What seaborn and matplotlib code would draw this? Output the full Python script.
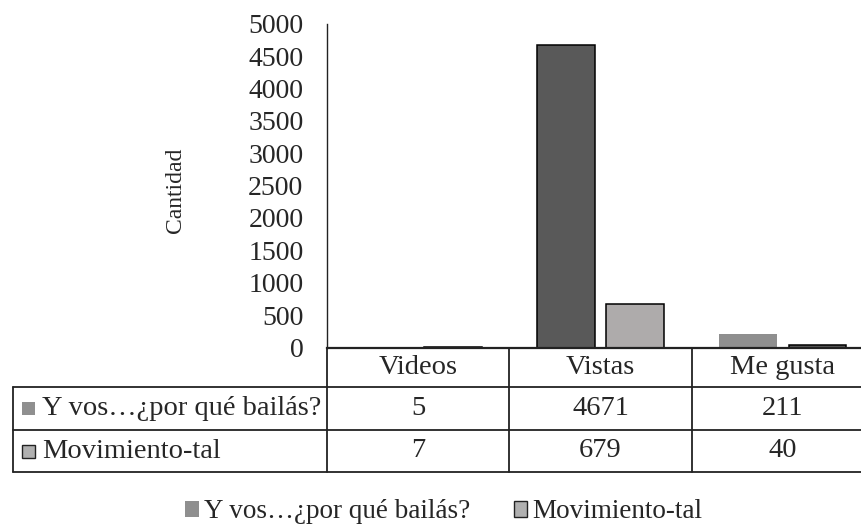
import pandas as pd
import matplotlib
matplotlib.use('Agg')
import matplotlib.pyplot as plt
import matplotlib.transforms as mtransforms
from matplotlib.lines import Line2D
from matplotlib.patches import Patch
import seaborn as sns

# Datos
categorias = ['Videos', 'Vistas', 'Me gusta']
series = ['Y vos…¿por qué bailás?', 'Movimiento-tal']
valores_y_vos = [5, 4671, 211]
valores_movimiento = [7, 679, 40]
ticks_y = [0, 500, 1000, 1500, 2000, 2500, 3000, 3500, 4000, 4500, 5000]

#Armar tabla larga para seaborn
df = pd.DataFrame({
    'categoria': categorias * 2,
    'serie': [series[0]] * 3 + [series[1]] * 3,
    'valor': valores_y_vos + valores_movimiento,
})

sns.set_style('white')
plt.rcParams['font.family'] = ['Liberation Serif', 'DejaVu Serif']

W, H = 861, 527
fig = plt.figure(figsize=(W / 100, H / 100), dpi=100)

#Eje en pixeles: izquierda 327, derecha 874 (se corta), arriba 23.7, cero en 347.5
ax_left, ax_right, ax_top, ax_bottom = 327, 874, 23.7, 347.5
ax = fig.add_axes([ax_left / W, (H - ax_bottom) / H,
                   (ax_right - ax_left) / W, (ax_bottom - ax_top) / H])

colores = ['#595959', '#AEAAAA']
sns.barplot(data=df, x='categoria', y='valor', hue='serie', order=categorias,
            hue_order=series, palette=colores, width=0.76, gap=0.17,
            edgecolor='black', linewidth=1.1, ax=ax, legend=False)

#En el original los colores cambian segun la categoria
barras_1 = ax.containers[0]
barras_2 = ax.containers[1]
barras_1[0].set_edgecolor('none')
barras_1[2].set_facecolor('#8F8F8F')
barras_1[2].set_edgecolor('none')
barras_2[2].set_facecolor('#595959')

ax.set_ylim(0, 5000)
ax.set_xlim(-0.5, 2.5)
ax.set_yticks(ticks_y)
ax.set_yticklabels([str(t) for t in ticks_y], fontsize=20)
ax.tick_params(axis='y', length=0, pad=17)
ax.tick_params(axis='x', length=0, labelbottom=False)
ax.set_xlabel('')
ax.set_ylabel('')
for s in ['top', 'right']:
    ax.spines[s].set_visible(False)
ax.spines['left'].set_linewidth(1.0)
ax.spines['left'].set_color('#222222')
ax.spines['bottom'].set_linewidth(1.6)
ax.spines['bottom'].set_color('#222222')

fig.text(176 / W, 1 - 190 / H, 'Cantidad', rotation=90, ha='center', va='center',
         fontsize=17)

#Tabla de datos debajo del eje
trans = mtransforms.blended_transform_factory(ax.transData, ax.transAxes)
alto_px = ax_bottom - ax_top
def fila(y_px):
    return -(y_px - ax_bottom) / alto_px

y_enc = fila(387)
y_f1 = fila(430)
y_f2 = fila(472)
x_izq = -0.5 - (ax_left - 12.7) / ((ax_right - ax_left) / 3)
col_bordes = [-0.5, 0.5, 1.5, 2.5]
lc = '#222222'
lw = 1.3

def linea(xs, ys):
    ax.add_line(Line2D(xs, ys, transform=trans, color=lc, lw=lw, clip_on=False))

#encabezado
for xb in col_bordes:
    linea([xb, xb], [0, y_f2])
linea([x_izq, x_izq], [y_enc, y_f2])
for yy in [y_enc, y_f1, y_f2]:
    linea([x_izq, 2.5], [yy, yy])

fs_tabla = 20.5
for i, cat in enumerate(categorias):
    ax.text(i, (0 + y_enc) / 2, cat, transform=trans, ha='center', va='center',
            fontsize=fs_tabla)
    ax.text(i, (y_enc + y_f1) / 2, str(valores_y_vos[i]), transform=trans,
            ha='center', va='center', fontsize=fs_tabla)
    ax.text(i, (y_f1 + y_f2) / 2, str(valores_movimiento[i]), transform=trans,
            ha='center', va='center', fontsize=fs_tabla)

#etiquetas de fila con su marcador
marcadores = [dict(facecolor='#8F8F8F', edgecolor='none'),
              dict(facecolor='#B0B0B0', edgecolor='#222222')]
for k, (nombre, y0, y1) in enumerate([(series[0], y_enc, y_f1), (series[1], y_f1, y_f2)]):
    yc_px = ax_bottom + (-(y0 + y1) / 2) * alto_px
    fig.patches.append(plt.Rectangle((22 / W, 1 - (yc_px + 6.5) / H), 13 / W, 13 / H,
                                     transform=fig.transFigure, lw=1, **marcadores[k]))
    fig.text(42 / W, 1 - yc_px / H, nombre, ha='left', va='center', fontsize=fs_tabla)

#Leyenda inferior
handles = [Patch(label=series[0], **marcadores[0]),
           Patch(label=series[1], linewidth=1, **marcadores[1])]
fig.legend(handles=handles, loc='center', bbox_to_anchor=(444 / W, 1 - 512 / H),
           ncol=2, frameon=False, fontsize=19.5, handlelength=0.5, handleheight=0.5,
           handletextpad=0.2, columnspacing=1.6)

fig.savefig('out.png', dpi=100)
